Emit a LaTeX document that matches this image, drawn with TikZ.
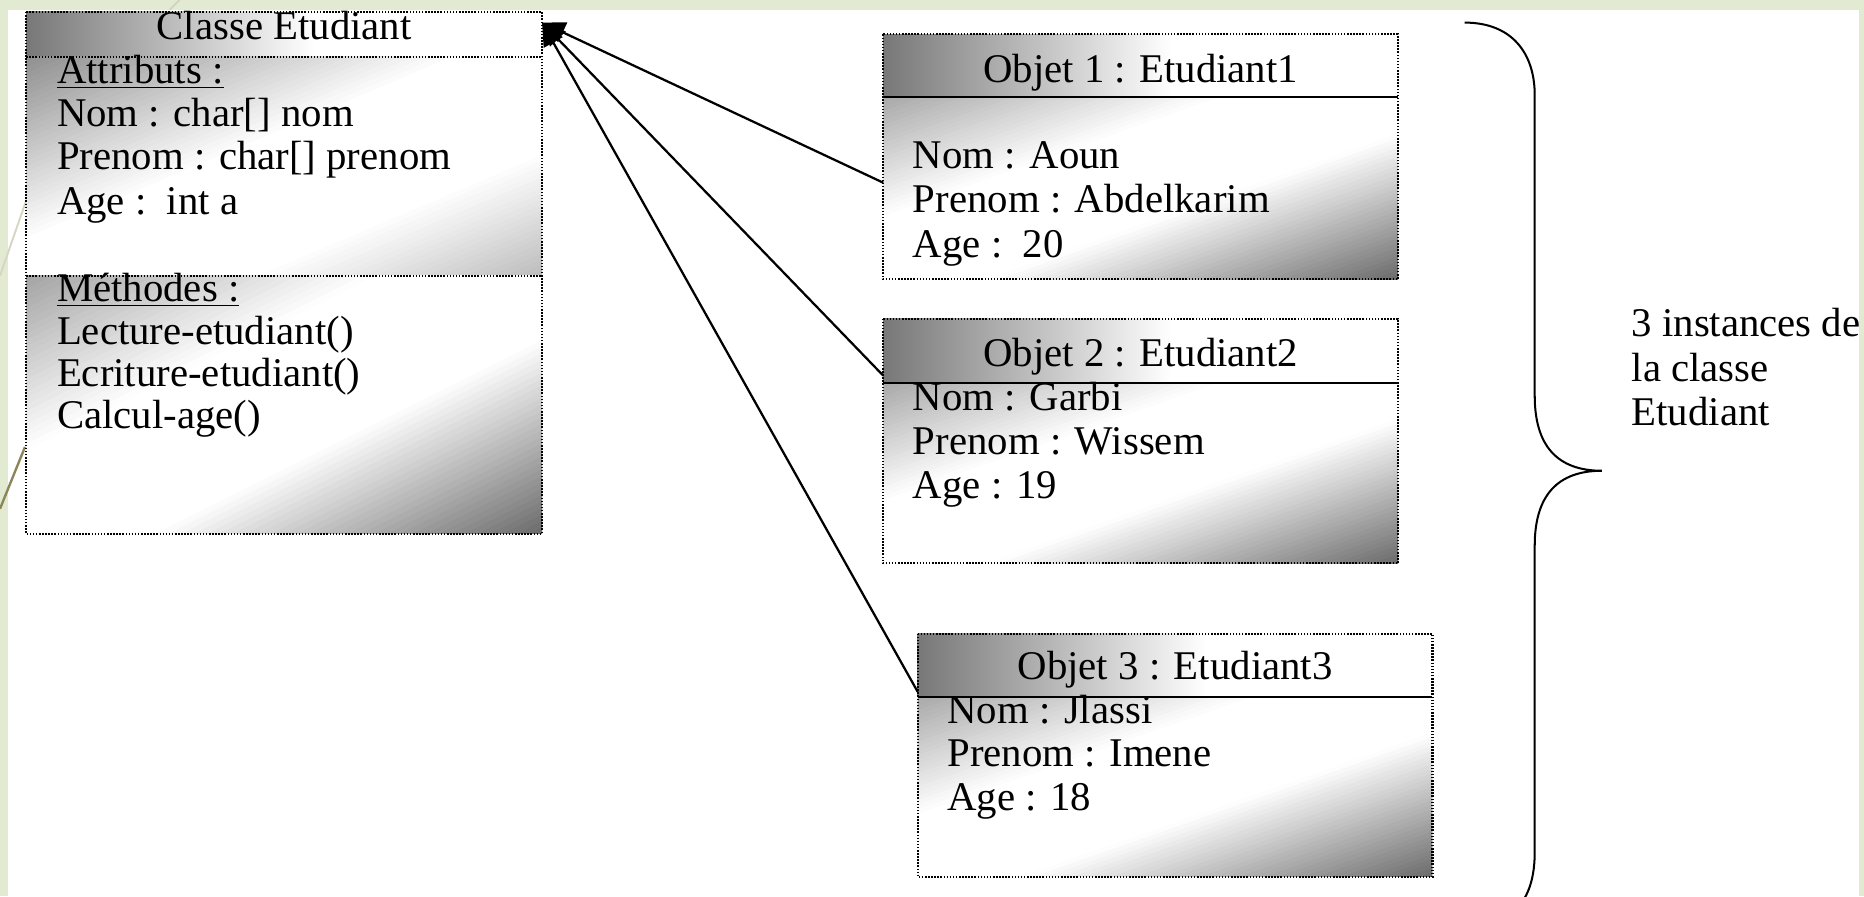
\documentclass[tikz,border=0pt]{standalone}
\usepackage{fontspec}
\setmainfont{Liberation Serif}
\usetikzlibrary{arrows.meta}

% slide colours
\definecolor{slidegreen}{RGB}{226,234,209}
\definecolor{slideline}{RGB}{140,135,90}
\definecolor{hdrgrey}{gray}{0.47}

% title band: grey on the left fading to white
\pgfdeclarehorizontalshading{headshade}{100bp}{color(0bp)=(hdrgrey); color(25bp)=(hdrgrey); color(53bp)=(white); color(100bp)=(white)}

% corner-to-corner grey/white/grey gradient, bands parallel to the
% rising diagonal of the rectangle (#1,#2)-(#3,#4);
% #5 grey at the upper-left corner, #6..#7 white band, #8 grey at the lower-right corner
\newcommand{\cornergradient}[8]{%
  \begin{scope}
    \clip (#1,#2) rectangle (#3,#4);
    \pgfmathsetmacro{\gw}{#3-#1}%
    \pgfmathsetmacro{\gh}{#4-#2}%
    \begin{scope}[shift={(#1,#2)}, x={(\gw*0.5pt,0pt)}, y={(0pt,-\gh*0.5pt)}]
      \foreach \i in {0,...,79} {
        \pgfmathsetmacro{\ta}{2*\i/80}%
        \pgfmathsetmacro{\tb}{2*(\i+1.4)/80}%
        \pgfmathsetmacro{\tm}{(\i+0.5)/80}%
        \pgfmathsetmacro{\lev}{\tm<#6 ? (#5+(1-#5)*\tm/#6) : (\tm>#7 ? (1-(1-#8)*(\tm-#7)/(1-#7)) : 1)}%
        \pgfmathsetmacro{\pct}{100*\lev}%
        \fill[white!\pct!black] ({\ta-1.2},1.2) -- ({\ta+0.2},-0.2) -- ({\tb+0.2},-0.2) -- ({\tb-1.2},1.2) -- cycle;
      }
    \end{scope}
  \end{scope}
}

\tikzset{
  part/.style={rectangle, draw=none, inner sep=0pt, outer sep=0pt},
  txt/.style={inner sep=0pt, outer sep=0pt, anchor=base west},
  ctxt/.style={inner sep=0pt, outer sep=0pt, anchor=base},
  dotline/.style={line width=0.85pt, dash pattern=on 0.65pt off 0.65pt, black},
  divline/.style={line width=0.85pt, black},
  link/.style={line width=0.95pt, black, -{Triangle[length=9.6pt,width=9pt]}},
  bracepath/.style={line width=0.85pt, black},
}

\begin{document}
\begin{tikzpicture}[x=0.5pt, y=-0.5pt, font=\fontsize{17.15pt}{20pt}\selectfont]
\useasboundingbox (0,0) rectangle (1568,754);
\clip (0,0) rectangle (1568,754);

% slide background with its white panel
\fill[slidegreen] (0,0) rectangle (1568,754);
\fill[white] (6.5,8) rectangle (1563.5,754);
\draw[black!10, line width=0.5pt] (6.5,8) -- (1563.5,8);
\draw[slideline!40, line width=0.7pt] (151,0) -- (143,8);
\draw[slideline!35, line width=0.8pt] (24,163) -- (0,232);
\draw[slideline, line width=1pt] (21,376) -- (0,428);

% ---------- class box ----------
\node[part, minimum width=217pt, minimum height=18.85pt] (clhead) at (239,28.85) {};
\node[part, minimum width=217pt, minimum height=92.15pt] (clattr) at (239,139.85) {};
\node[part, minimum width=217pt, minimum height=108.5pt] (clmeth) at (239,340.5) {};
\shade[shading=headshade] (clhead.north west) rectangle (clhead.south east);
\cornergradient{22}{47.7}{456}{232}{0.56}{0.42}{0.72}{0.74}
\cornergradient{22}{232}{456}{449}{0.64}{0.34}{0.62}{0.42}
\draw[dotline] (clhead.north west) rectangle (clmeth.south east);
\draw[dotline] (clhead.south west) -- (clhead.south east);
\draw[dotline] (clattr.south west) -- (clattr.south east);

\node[ctxt] (cltitle) at (239,33) {Classe Etudiant};
\node[txt] (cla0) at (48,70) {\underline{Attributs :}};
\node[txt] (cla1) at (48,106.5) {Nom : char[] nom};
\node[txt] (cla2) at (48,143) {Prenom : char[] prenom};
\node[txt] (cla3) at (48,180.5) {Age :\ \ int a};
\node[txt] (clm0) at (48,254) {\underline{Méthodes :}};
\node[txt] (clm1) at (48,290) {Lecture-etudiant()};
\node[txt] (clm2) at (48,325.5) {Ecriture-etudiant()};
\node[txt] (clm3) at (48,360.5) {Calcul-age()};

\coordinate (tip) at ([yshift=-4.5pt]clhead.north east);

% ---------- object 1 ----------
\node[part, minimum width=216.5pt, minimum height=26.5pt] (obj1head) at (959.5,55.5) {};
\node[part, minimum width=216.5pt, minimum height=76.5pt] (obj1body) at (959.5,158.5) {};
\shade[shading=headshade] (obj1head.north west) rectangle (obj1head.south east);
\cornergradient{743}{82}{1176}{235}{0.66}{0.33}{0.6}{0.42}
\draw[dotline] (obj1head.north west) rectangle (obj1body.south east);
\draw[divline] (obj1head.south west) -- (obj1head.south east);
\node[ctxt] (o1t) at (959.5,69.5) {Objet 1 : Etudiant1};
\node[txt] (o1a) at (768,141.6) {Nom : Aoun};
\node[txt] (o1b) at (768,179) {Prenom : Abdelkarim};
\node[txt] (o1c) at (768,216.5) {Age :\ \ 20};

% ---------- object 2 ----------
\node[part, minimum width=216.5pt, minimum height=27pt] (obj2head) at (959.5,295) {};
\node[part, minimum width=216.5pt, minimum height=76pt] (obj2body) at (959.5,398) {};
\shade[shading=headshade] (obj2head.north west) rectangle (obj2head.south east);
\cornergradient{743}{322}{1176}{474}{0.66}{0.33}{0.6}{0.42}
\draw[dotline] (obj2head.north west) rectangle (obj2body.south east);
\draw[divline] (obj2head.south west) -- (obj2head.south east);
\node[ctxt] (o2t) at (959.5,308.4) {Objet 2 : Etudiant2};
\node[txt] (o2a) at (768,345) {Nom : Garbi};
\node[txt] (o2b) at (768,382.7) {Prenom : Wissem};
\node[txt] (o2c) at (768,419.2) {Age : 19};

% ---------- object 3 ----------
\node[part, minimum width=216.5pt, minimum height=26.5pt] (obj3head) at (988.5,559.5) {};
\node[part, minimum width=216.5pt, minimum height=75.75pt] (obj3body) at (988.5,661.75) {};
\shade[shading=headshade] (obj3head.north west) rectangle (obj3head.south east);
\cornergradient{772}{586}{1205}{737.5}{0.66}{0.33}{0.6}{0.42}
\draw[dotline] (obj3head.north west) rectangle (obj3body.south east);
\draw[divline] (obj3head.south west) -- (obj3head.south east);
\node[ctxt] (o3t) at (988.5,572) {Objet 3 : Etudiant3};
\node[txt] (o3a) at (797,608.5) {Nom : Jlassi};
\node[txt] (o3b) at (797,645) {Prenom : Imene};
\node[txt] (o3c) at (797,682) {Age : 18};

% ---------- instance links ----------
\draw[link] ([yshift=2.4pt]obj1body.west) -- (tip);
\draw[link] ([yshift=3pt]obj2head.south west) -- (tip);
\draw[link] ([yshift=2pt]obj3head.south west) -- (tip);

% ---------- brace and its label ----------
\coordinate (bracetip) at (1347.5,396);
\draw[bracepath] (1232,19) .. controls (1272,19) and (1291,45) .. (1291,80)
  -- (1291,333) .. controls (1291,375) and (1310,396) .. (bracetip)
  .. controls (1310,396) and (1291,417) .. (1291,459)
  -- (1291,716) .. controls (1291,745) and (1283,758) .. (1270,772);
\node[txt] (lab1) at (1372.6,283) {3 instances de};
\node[txt] (lab2) at (1372.6,321) {la classe};
\node[txt] (lab3) at (1372.6,358) {Etudiant};
\end{tikzpicture}
\end{document}
